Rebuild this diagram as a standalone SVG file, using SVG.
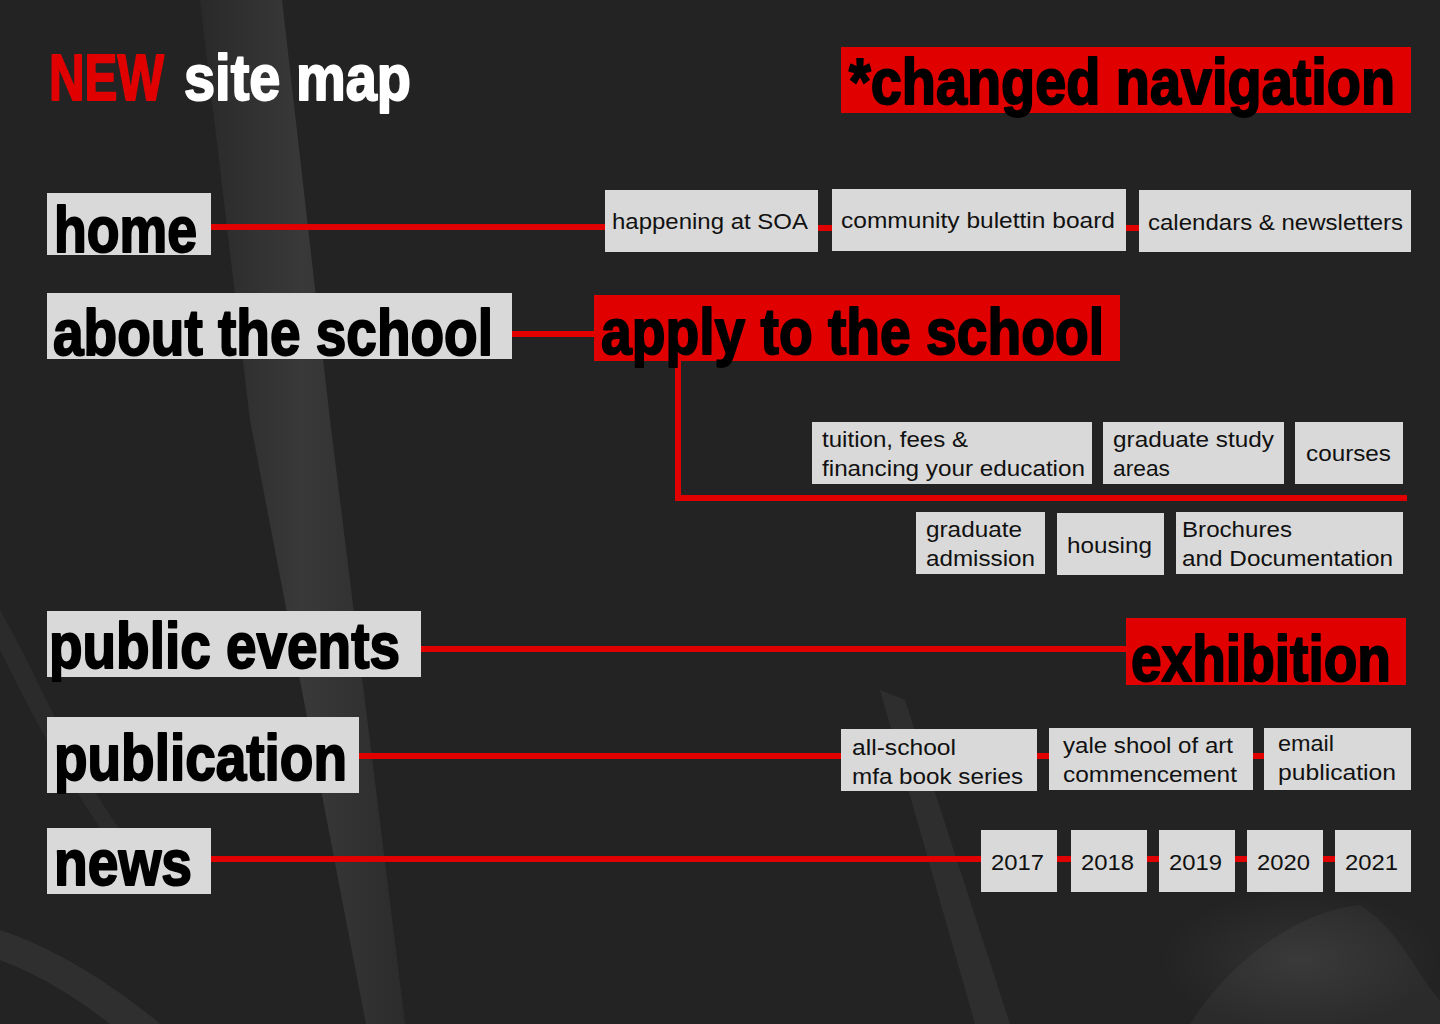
<svg xmlns="http://www.w3.org/2000/svg" width="1440" height="1024" viewBox="0 0 1440 1024">
  <defs>
    <linearGradient id="band" x1="0" y1="0" x2="1" y2="0">
      <stop offset="0" stop-color="#ffffff" stop-opacity="0.03"/>
      <stop offset="0.5" stop-color="#ffffff" stop-opacity="0.10"/>
      <stop offset="1" stop-color="#ffffff" stop-opacity="0.04"/>
    </linearGradient>
    <radialGradient id="glow" cx="0.5" cy="0.5" r="0.5">
      <stop offset="0" stop-color="#ffffff" stop-opacity="0.07"/>
      <stop offset="1" stop-color="#ffffff" stop-opacity="0"/>
    </radialGradient>
  </defs>
  <style>
    .big { font-family: "Liberation Sans Narrow", "Liberation Sans", Arial, sans-serif; font-weight: 700; font-size: 65px; fill: #000; stroke: #000; stroke-width: 2; stroke-linejoin: round; }
    .sm { font-family: "Liberation Sans", Arial, sans-serif; font-size: 22px; fill: #111; }
    .box { fill: #d9d9d9; }
    .rbox { fill: #e10000; }
    .ln { stroke: #e10000; stroke-width: 6; fill: none; }
  </style>
  <rect width="1440" height="1024" fill="#232323"/>
  <g id="background-texture">
    <polygon points="200,0 282,0 330,420 405,1024 366,1024 250,420" fill="url(#band)"/>
    <polygon points="880,690 905,700 1010,1024 975,1024" fill="#ffffff" opacity="0.05"/>
    <path d="M1190,1024 C1230,960 1300,910 1360,905 C1400,930 1420,980 1440,1000 L1440,1024 Z" fill="#ffffff" opacity="0.04"/>
    <path d="M0,930 C60,950 120,990 160,1024 L110,1024 C80,1000 40,975 0,960 Z" fill="#ffffff" opacity="0.06"/>
    <path d="M0,610 C40,680 70,760 120,830 L105,835 C60,770 25,700 0,650 Z" fill="#ffffff" opacity="0.04"/>
    <ellipse cx="1300" cy="960" rx="140" ry="70" fill="url(#glow)"/>
  </g>

  <g id="title">
    <text class="big" x="49" y="100" style="fill:#e10000;stroke:#e10000" textLength="115" lengthAdjust="spacingAndGlyphs">NEW</text>
    <text class="big" x="184" y="100" style="fill:#ffffff;stroke:#ffffff" textLength="227" lengthAdjust="spacingAndGlyphs">site map</text>
  </g>
  <g id="changed-navigation">
    <rect class="rbox" x="841" y="47" width="570" height="66"/>
    <text class="big" x="849" y="104" textLength="546" lengthAdjust="spacingAndGlyphs">*changed navigation</text>
  </g>

  <g id="connectors">
    <line class="ln" x1="211" y1="227" x2="605" y2="227"/>
    <line class="ln" x1="818" y1="228" x2="832" y2="228"/>
    <line class="ln" x1="1126" y1="228" x2="1139" y2="228"/>
    <line class="ln" x1="512" y1="334" x2="594" y2="334"/>
    <polyline class="ln" points="678,361 678,498 1407,498"/>
    <line class="ln" x1="421" y1="649" x2="1126" y2="649"/>
    <line class="ln" x1="359" y1="756" x2="841" y2="756"/>
    <line class="ln" x1="1037" y1="756" x2="1049" y2="756"/>
    <line class="ln" x1="1253" y1="756" x2="1264" y2="756"/>
    <line class="ln" x1="211" y1="859" x2="981" y2="859"/>
    <line class="ln" x1="1057" y1="859" x2="1071" y2="859"/>
    <line class="ln" x1="1147" y1="859" x2="1159" y2="859"/>
    <line class="ln" x1="1235" y1="859" x2="1247" y2="859"/>
    <line class="ln" x1="1323" y1="859" x2="1335" y2="859"/>
  </g>

  <g id="home">
    <rect class="box" x="47" y="193" width="164" height="62"/>
    <text class="big" x="54" y="252" textLength="143" lengthAdjust="spacingAndGlyphs">home</text>
  </g>
  <g id="happening">
    <rect class="box" x="605" y="190" width="213" height="62"/>
    <text class="sm" x="612" y="229" textLength="196" lengthAdjust="spacingAndGlyphs">happening at SOA</text>
  </g>
  <g id="community">
    <rect class="box" x="832" y="189" width="294" height="62"/>
    <text class="sm" x="841" y="228" textLength="274" lengthAdjust="spacingAndGlyphs">community bulettin board</text>
  </g>
  <g id="calendars">
    <rect class="box" x="1139" y="190" width="272" height="62"/>
    <text class="sm" x="1148" y="230" textLength="255" lengthAdjust="spacingAndGlyphs">calendars &amp; newsletters</text>
  </g>

  <g id="about">
    <rect class="box" x="47" y="293" width="465" height="66"/>
    <text class="big" x="53" y="355" textLength="440" lengthAdjust="spacingAndGlyphs">about the school</text>
  </g>
  <g id="apply">
    <rect class="rbox" x="594" y="295" width="526" height="66"/>
    <text class="big" x="601" y="354" textLength="503" lengthAdjust="spacingAndGlyphs">apply to the school</text>
  </g>

  <g id="tuition">
    <rect class="box" x="812" y="422" width="280" height="62"/>
    <text class="sm" x="822" y="447" textLength="146" lengthAdjust="spacingAndGlyphs">tuition, fees &amp;</text>
    <text class="sm" x="822" y="476" textLength="263" lengthAdjust="spacingAndGlyphs">financing your education</text>
  </g>
  <g id="graduate-study">
    <rect class="box" x="1103" y="422" width="181" height="62"/>
    <text class="sm" x="1113" y="447" textLength="161" lengthAdjust="spacingAndGlyphs">graduate study</text>
    <text class="sm" x="1113" y="476" textLength="57" lengthAdjust="spacingAndGlyphs">areas</text>
  </g>
  <g id="courses">
    <rect class="box" x="1295" y="422" width="108" height="62"/>
    <text class="sm" x="1306" y="461" textLength="85" lengthAdjust="spacingAndGlyphs">courses</text>
  </g>
  <g id="graduate-admission">
    <rect class="box" x="916" y="512" width="129" height="62"/>
    <text class="sm" x="926" y="537" textLength="96" lengthAdjust="spacingAndGlyphs">graduate</text>
    <text class="sm" x="926" y="566" textLength="109" lengthAdjust="spacingAndGlyphs">admission</text>
  </g>
  <g id="housing">
    <rect class="box" x="1057" y="513" width="107" height="62"/>
    <text class="sm" x="1067" y="553" textLength="85" lengthAdjust="spacingAndGlyphs">housing</text>
  </g>
  <g id="brochures">
    <rect class="box" x="1176" y="512" width="227" height="62"/>
    <text class="sm" x="1182" y="537" textLength="110" lengthAdjust="spacingAndGlyphs">Brochures</text>
    <text class="sm" x="1182" y="566" textLength="211" lengthAdjust="spacingAndGlyphs">and Documentation</text>
  </g>

  <g id="public-events">
    <rect class="box" x="47" y="611" width="374" height="66"/>
    <text class="big" x="49" y="668" textLength="351" lengthAdjust="spacingAndGlyphs">public events</text>
  </g>
  <g id="exhibition">
    <rect class="rbox" x="1126" y="618" width="280" height="67"/>
    <text class="big" x="1131" y="681" textLength="260" lengthAdjust="spacingAndGlyphs">exhibition</text>
  </g>

  <g id="publication">
    <rect class="box" x="47" y="717" width="312" height="76"/>
    <text class="big" x="54" y="780" textLength="293" lengthAdjust="spacingAndGlyphs">publication</text>
  </g>
  <g id="all-school">
    <rect class="box" x="841" y="729" width="196" height="62"/>
    <text class="sm" x="852" y="755" textLength="104" lengthAdjust="spacingAndGlyphs">all-school</text>
    <text class="sm" x="852" y="784" textLength="171" lengthAdjust="spacingAndGlyphs">mfa book series</text>
  </g>
  <g id="yale">
    <rect class="box" x="1049" y="728" width="204" height="62"/>
    <text class="sm" x="1063" y="753" textLength="170" lengthAdjust="spacingAndGlyphs">yale shool of art</text>
    <text class="sm" x="1063" y="782" textLength="174" lengthAdjust="spacingAndGlyphs">commencement</text>
  </g>
  <g id="email">
    <rect class="box" x="1264" y="728" width="147" height="62"/>
    <text class="sm" x="1278" y="751" textLength="56" lengthAdjust="spacingAndGlyphs">email</text>
    <text class="sm" x="1278" y="780" textLength="118" lengthAdjust="spacingAndGlyphs">publication</text>
  </g>

  <g id="news">
    <rect class="box" x="47" y="828" width="164" height="66"/>
    <text class="big" x="54" y="885" textLength="138" lengthAdjust="spacingAndGlyphs">news</text>
  </g>
  <g id="y2017">
    <rect class="box" x="981" y="830" width="76" height="62"/>
    <text class="sm" x="991" y="870" textLength="53" lengthAdjust="spacingAndGlyphs">2017</text>
  </g>
  <g id="y2018">
    <rect class="box" x="1071" y="830" width="76" height="62"/>
    <text class="sm" x="1081" y="870" textLength="53" lengthAdjust="spacingAndGlyphs">2018</text>
  </g>
  <g id="y2019">
    <rect class="box" x="1159" y="830" width="76" height="62"/>
    <text class="sm" x="1169" y="870" textLength="53" lengthAdjust="spacingAndGlyphs">2019</text>
  </g>
  <g id="y2020">
    <rect class="box" x="1247" y="830" width="76" height="62"/>
    <text class="sm" x="1257" y="870" textLength="53" lengthAdjust="spacingAndGlyphs">2020</text>
  </g>
  <g id="y2021">
    <rect class="box" x="1335" y="830" width="76" height="62"/>
    <text class="sm" x="1345" y="870" textLength="53" lengthAdjust="spacingAndGlyphs">2021</text>
  </g>
</svg>
